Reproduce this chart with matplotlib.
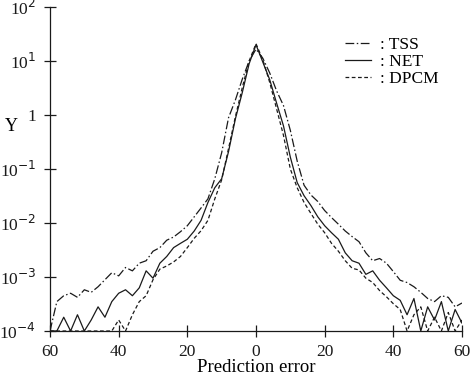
import numpy as np
import matplotlib
matplotlib.use("Agg")
import matplotlib.pyplot as plt

plt.rcParams['font.family'] = ['Liberation Serif', 'DejaVu Serif']

x_err = list(range(-60, 61, 2))

tss = [0, 3.5e-4, 4.5e-4, 5.0e-4, 4.2e-4, 5.8e-4, 5.2e-4, 6.6e-4, 8.9e-4, 1.2e-3,
       1.05e-3, 1.5e-3, 1.3e-3, 1.8e-3, 2.0e-3, 3.0e-3, 3.5e-3, 4.8e-3, 5.5e-3, 6.9e-3,
       8.9e-3, 1.3e-2, 1.9e-2, 2.8e-2, 6.6e-2, 0.20, 0.89, 1.9, 4.6, 10.0,
       16.6,
       11.2, 6.0, 2.8, 1.5, 0.52, 0.14, 5.0e-2, 3.3e-2, 2.5e-2, 1.7e-2,
       1.26e-2, 9.5e-3, 7.1e-3, 5.6e-3, 4.5e-3, 2.8e-3, 2.0e-3, 2.2e-3, 1.8e-3, 1.26e-3,
       8.7e-4, 7.9e-4, 6.6e-4, 5.2e-4, 4.0e-4, 3.5e-4, 4.5e-4, 4.2e-4, 2.8e-4, 3.3e-4]

net = [0, 0, 1.8e-4, 0, 2.0e-4, 0, 1.6e-4, 2.8e-4, 1.8e-4, 3.5e-4,
       5.0e-4, 5.8e-4, 4.5e-4, 6.3e-4, 1.3e-3, 9.5e-4, 1.8e-3, 2.4e-3, 3.5e-3, 4.2e-3,
       5.0e-3, 7.1e-3, 1.12e-2, 2.4e-2, 4.5e-2, 6.6e-2, 0.21, 0.85, 2.6, 8.9,
       20.0,
       9.5, 4.5, 1.66, 0.63, 0.166, 5.6e-2, 3.2e-2, 2.1e-2, 1.3e-2, 8.9e-3,
       6.6e-3, 5.0e-3, 2.8e-3, 2.0e-3, 1.8e-3, 1.12e-3, 1.3e-3, 8.7e-4, 6.3e-4, 4.5e-4,
       3.7e-4, 2.0e-4, 4.0e-4, 0, 2.8e-4, 1.6e-4, 3.5e-4, 0, 2.5e-4, 1.4e-4]

dpcm = [0, 0, 0, 0, 0, 0, 0, 0, 0, 0,
        1.6e-4, 0, 2.0e-4, 3.5e-4, 4.5e-4, 8.9e-4, 1.4e-3, 1.6e-3, 1.9e-3, 2.4e-3,
        3.5e-3, 5.2e-3, 7.2e-3, 1.12e-2, 2.8e-2, 6.3e-2, 0.24, 0.93, 3.2, 10.0,
        20.9,
        10.5, 4.0, 1.3, 0.42, 0.10, 4.5e-2, 2.4e-2, 1.5e-2, 9.5e-3, 6.6e-3,
        4.2e-3, 3.0e-3, 2.0e-3, 1.45e-3, 1.35e-3, 9.5e-4, 7.9e-4, 5.6e-4, 4.3e-4, 3.2e-4,
        2.5e-4, 0, 2.0e-4, 2.8e-4, 0, 1.8e-4, 0, 2.2e-4, 0, 1.6e-4]

labels = [": TSS", ": NET", ": DPCM"]
xticks = [-60, -40, -20, 0, 20, 40, 60]
xticklabels = ["60", "40", "20", "0", "20", "40", "60"]
yticks = [1e2, 1e1, 1e0, 1e-1, 1e-2, 1e-3, 1e-4]
yticklabels = ["10$^{2}$", "10$^{1}$", "1", "10$^{-1}$", "10$^{-2}$", "10$^{-3}$", "10$^{-4}$"]

fig = plt.figure(figsize=(4.7, 3.8), dpi=100)
ax = fig.add_axes([50/470, 1-331/380, 412/470, 324/380])

floor = 1e-4
col = '#1a1a1a'
styles = [(0, (7, 2, 1.2, 2)), '-', (0, (3, 2))]
for series, lab, ls in zip([tss, net, dpcm], labels, styles):
    ax.plot(x_err, np.clip(series, floor, None), color=col, lw=0.9, ls=ls, label=lab)

ax.set_yscale('log')
ax.set_ylim(1e-4, 1e2)
ax.set_xlim(-60, 60)
ax.set_xticks(xticks)
ax.set_xticklabels(xticklabels)
ax.set_yticks(yticks)
ax.set_yticklabels(yticklabels)
ax.yaxis.set_minor_locator(matplotlib.ticker.NullLocator())
ax.tick_params(direction='inout', length=8, width=0.9, labelsize=12.5, colors='#1a1a1a')
ax.tick_params(axis='x', pad=5)
ax.tick_params(axis='y', pad=6)
for s in ['top', 'right']:
    ax.spines[s].set_visible(False)
for s in ['left', 'bottom']:
    ax.spines[s].set_linewidth(0.9)
    ax.spines[s].set_color('#1a1a1a')

ax.set_xlabel("Prediction error", fontsize=13.5, labelpad=0)
ax.set_ylabel("Y", fontsize=13, rotation=0)
ax.yaxis.set_label_coords(-0.095, 0.605)

leg = ax.legend(loc='upper left', bbox_to_anchor=((338-50)/412, 1-(30-7)/324),
                frameon=False, fontsize=12.5, handlelength=1.5, handletextpad=0.5,
                labelspacing=0.05, borderaxespad=0)

fig.savefig("out.png", dpi=100)
